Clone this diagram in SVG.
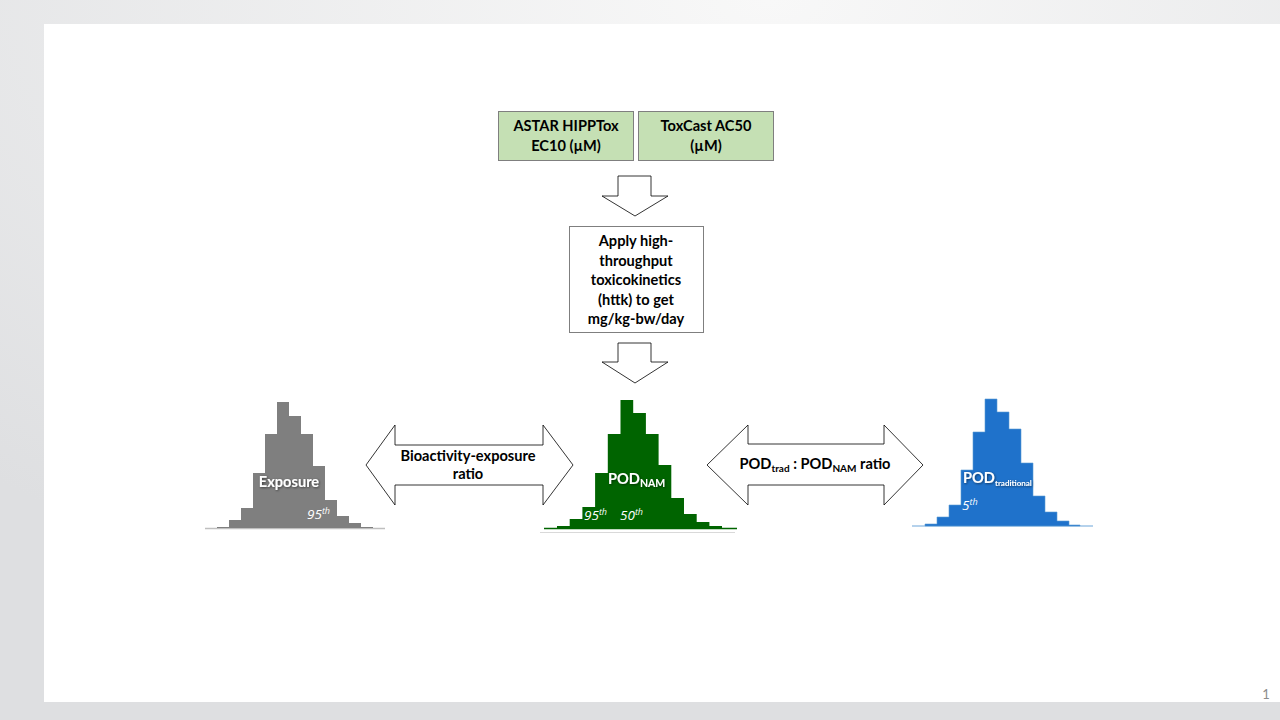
<svg xmlns="http://www.w3.org/2000/svg" width="1280" height="720" viewBox="0 0 1280 720">
<defs>
<radialGradient id="bg" cx="0.6" cy="0" r="0.9">
<stop offset="0" stop-color="#F8F8F8"/>
<stop offset="1" stop-color="#DEDFE1"/>
</radialGradient>
<filter id="sh" x="-20%" y="-40%" width="140%" height="180%">
<feDropShadow dx="0.8" dy="0.8" stdDeviation="0.8" flood-color="#000" flood-opacity="0.55"/>
</filter>
</defs>
<style>
.box{stroke:#7F7F7F;stroke-width:1}
.gb{fill:#C5E0B4}
.wb{fill:#FFFFFF}
.t{font-family:Lato,"Liberation Sans",sans-serif;font-weight:bold;font-size:14.6px;fill:#000;text-anchor:middle}
.arr{fill:#FFFFFF;stroke:#000;stroke-width:0.8;stroke-linejoin:miter}
.lab{font-family:Lato,"Liberation Sans",sans-serif;font-weight:bold;font-size:14.6px;fill:#FFFFFF}
.pct{font-family:"Open Sans","Liberation Sans",sans-serif;font-style:italic;font-size:13.5px;fill:#FFFFFF}
.sup{font-size:9px}
</style>
<rect x="0" y="0" width="1280" height="720" fill="url(#bg)"/>
<rect x="44" y="24" width="1236" height="678" fill="#FFFFFF"/>
<text x="1266" y="699" font-family="Lato,'Liberation Sans',sans-serif" font-size="13" fill="#8C8C8C" text-anchor="middle">1</text>

<g id="connectors">
<path class="arr" d="M618,176 H651 V196 H668 L635,216 L602,196 H618 Z"/>
<path class="arr" d="M618,343 H651 V362 H668 L635,383 L602,362 H618 Z"/>
<path class="arr" d="M366,465 L395,425 V445 H543 V425 L573,465 L543,505 V485 H395 V505 Z"/>
<path class="arr" d="M707,465 L748,425 V444 H884 V425 L923,465 L884,505 V485 H748 V505 Z"/>
</g>

<g id="astar">
<rect class="box gb" x="498.5" y="111.5" width="135" height="49"/>
<text class="t" x="566" y="131">ASTAR HIPPTox</text>
<text class="t" x="566" y="151">EC10 (µM)</text>
</g>
<g id="toxcast">
<rect class="box gb" x="638.5" y="111.5" width="135" height="49"/>
<text class="t" x="706" y="131">ToxCast AC50</text>
<text class="t" x="706" y="151">(µM)</text>
</g>
<g id="httk">
<rect class="box wb" x="569.5" y="226.5" width="134" height="106"/>
<text class="t" x="636" y="246">Apply high-</text>
<text class="t" x="636" y="265.5">throughput</text>
<text class="t" x="636" y="285">toxicokinetics</text>
<text class="t" x="636" y="304.5">(httk) to get</text>
<text class="t" x="636" y="324">mg/kg-bw/day</text>
</g>

<g id="label-bioactivity">
<text class="t" x="468" y="461">Bioactivity-exposure</text>
<text class="t" x="468" y="479">ratio</text>
</g>
<g id="label-ratio">
<text class="t" x="815" y="469">POD<tspan font-size="10" dy="3">trad</tspan><tspan dy="-3"> : POD</tspan><tspan font-size="10" dy="3">NAM</tspan><tspan dy="-3"> ratio</tspan></text>
</g>

<g id="exposure">
<line x1="205" y1="528.5" x2="385" y2="528.5" stroke="#BFBFBF" stroke-width="1.5"/>
<path fill="#7F7F7F" d="M217,528 V527 H229 V520 H241 V508 H253 V473 H265 V434 H277 V402 H289 V416 H301 V434 H313 V466 H325 V500 H337 V516 H349 V523 H361 V527 H373 V528 Z"/>
<text class="lab" x="289" y="487" text-anchor="middle" filter="url(#sh)">Exposure</text>
<text class="pct" x="307" y="519">95<tspan class="sup" dy="-5">th</tspan></text>
</g>

<g id="podnam">
<line x1="540" y1="532.5" x2="735" y2="532.5" stroke="#D9D9D9" stroke-width="1"/>
<path fill="#006400" d="M557,528 V526 H569.7 V519 H582.4 V507 H595.1 V473 H607.8 V434 H620.5 V400 H633.2 V413 H645.9 V434 H658.6 V465 H671.3 V498 H684 V514 H696.7 V522 H709.4 V526 H722 V528 Z"/>
<line x1="544" y1="528.5" x2="737" y2="528.5" stroke="#006400" stroke-width="1.5"/>
<text class="lab" x="608" y="484" filter="url(#sh)">POD<tspan font-size="10.5" dy="3">NAM</tspan></text>
<text class="pct" x="584" y="520">95<tspan class="sup" dy="-5">th</tspan></text>
<text class="pct" x="620" y="520">50<tspan class="sup" dy="-5">th</tspan></text>
</g>

<g id="podtrad">
<line x1="912" y1="526" x2="1093" y2="526" stroke="#9DC3E6" stroke-width="1.5"/>
<path fill="#1F72CB" stroke="#5B9BD5" stroke-width="0.6" d="M925,526 V524 H937 V517 H949 V505 H961 V470 H973 V432 H985 V399 H997 V412 H1009 V429 H1021 V463 H1033 V496 H1045 V512 H1057 V521 H1069 V525 H1080 V526 Z"/>
<text class="lab" x="963" y="483" filter="url(#sh)">POD<tspan font-size="8" dy="3">traditional</tspan></text>
<text class="pct" x="962" y="510">5<tspan class="sup" dy="-5">th</tspan></text>
</g>
</svg>
